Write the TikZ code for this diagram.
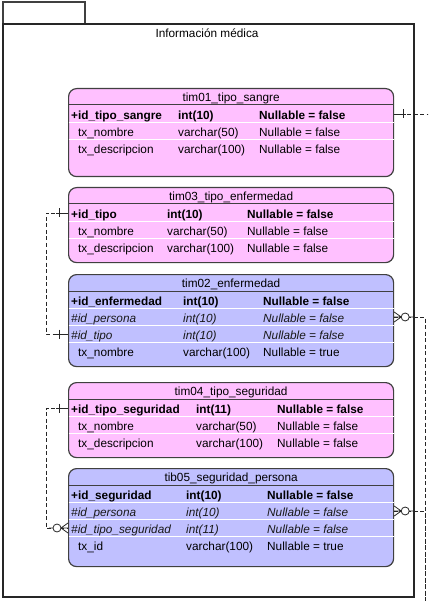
\documentclass[tikz,border=0pt]{standalone}
\usepackage{fontspec}
\setmainfont{Liberation Sans}
\usetikzlibrary{positioning}

\definecolor{pinkfill}{RGB}{255,192,255}
\definecolor{bluefill}{RGB}{192,192,255}
\definecolor{edgegray}{RGB}{64,64,64}

\begin{document}
\begin{tikzpicture}[x=1pt,y=-1pt,
    every node/.style={font=\fontsize{11.8}{13}\selectfont,inner sep=0pt,text height=10.5pt,text depth=0pt},
    tbl/.style={draw=edgegray,line width=1.2pt,rounded corners=8pt,anchor=north west,minimum width=325pt},
    col/.style={anchor=west},
    pk/.style={col,font=\fontsize{11.8}{13}\selectfont\bfseries},
    fk/.style={col,font=\fontsize{11.8}{13}\selectfont\itshape,text=black!90},
    hsep/.style={draw=edgegray,line width=1pt},
    rsep/.style={draw=white,line width=1.5pt},
    rel/.style={draw=black!85,line width=0.8pt,dash pattern=on 4pt off 2.5pt},
    onebar/.pic={\draw[black!85,line width=0.8pt] (0,0) -- (12,0) (9,-4.5) -- (9,4.5);},
    zmany/.pic={\draw[black!85,line width=0.8pt] (0,-5) -- (7,0) -- (0,5) (0,0) -- (7,0) (15,0) -- (19,0);
                \draw[black!85,line width=0.8pt,fill=white] (11,0) circle (4pt);}]
    \clip (0,0) rectangle (428,601);

    % package frame
    \draw[edgegray,line width=1.2pt] (3,2) rectangle (85,24);
    \draw[black!85,line width=1.3pt] (3,24) rectangle (414,597);
    \node (pkg) at (207,32) {Información médica};

    % tables
    \node[tbl,fill=pinkfill,minimum height=88pt] (tim01) at (68,88) {};
    \node[tbl,fill=pinkfill,minimum height=75pt] (tim03) at (68,187) {};
    \node[tbl,fill=bluefill,minimum height=92pt] (tim02) at (68,274) {};
    \node[tbl,fill=pinkfill,minimum height=75pt] (tim04) at (68,382) {};
    \node[tbl,fill=bluefill,minimum height=98pt] (tib05) at (68,468) {};

    \foreach \t/\n in {tim01/3,tim03/3,tim02/4,tim04/3,tib05/4} {
        \draw[hsep] ([yshift=-17pt]\t.north west) -- ([yshift=-17pt]\t.north east);
        \foreach \k in {2,...,\n}
            \draw[rsep] ([xshift=0.6pt,yshift=-17.5pt-17pt*(\k-1)]\t.north west) -- ([xshift=-0.6pt,yshift=-17.5pt-17pt*(\k-1)]\t.north east);
    }

    % tim01
    \node at ([yshift=-8pt]tim01.north) {tim01\_tipo\_sangre};
    \node[pk] (r01a) at (71,114) {+id\_tipo\_sangre};
    \node[pk] at (178,114) {int(10)};
    \node[pk] at (259,114) {Nullable = false};
    \node[col] (r01b) at (78,131) {tx\_nombre};
    \node[col] at (178,131) {varchar(50)};
    \node[col] at (259,131) {Nullable = false};
    \node[col] (r01c) at (78,148) {tx\_descripcion};
    \node[col] at (178,148) {varchar(100)};
    \node[col] at (259,148) {Nullable = false};

    % tim03
    \node at ([yshift=-8pt]tim03.north) {tim03\_tipo\_enfermedad};
    \node[pk] (r03a) at (71,213) {+id\_tipo};
    \node[pk] at (167,213) {int(10)};
    \node[pk] at (247,213) {Nullable = false};
    \node[col] (r03b) at (78,230) {tx\_nombre};
    \node[col] at (167,230) {varchar(50)};
    \node[col] at (247,230) {Nullable = false};
    \node[col] (r03c) at (78,247) {tx\_descripcion};
    \node[col] at (167,247) {varchar(100)};
    \node[col] at (247,247) {Nullable = false};

    % tim02
    \node at ([yshift=-8pt]tim02.north) {tim02\_enfermedad};
    \node[pk] (r02a) at (71,300) {+id\_enfermedad};
    \node[pk] at (183,300) {int(10)};
    \node[pk] at (263,300) {Nullable = false};
    \node[fk] (r02b) at (71,317) {\#id\_persona};
    \node[fk] at (183,317) {int(10)};
    \node[fk] at (263,317) {Nullable = false};
    \node[fk] (r02c) at (71,334) {\#id\_tipo};
    \node[fk] at (183,334) {int(10)};
    \node[fk] at (263,334) {Nullable = false};
    \node[col] (r02d) at (78,351) {tx\_nombre};
    \node[col] at (183,351) {varchar(100)};
    \node[col] at (263,351) {Nullable = true};

    % tim04
    \node at ([yshift=-8pt]tim04.north) {tim04\_tipo\_seguridad};
    \node[pk] (r04a) at (71,408) {+id\_tipo\_seguridad};
    \node[pk] at (196,408) {int(11)};
    \node[pk] at (277,408) {Nullable = false};
    \node[col] (r04b) at (78,425) {tx\_nombre};
    \node[col] at (196,425) {varchar(50)};
    \node[col] at (277,425) {Nullable = false};
    \node[col] (r04c) at (78,442) {tx\_descripcion};
    \node[col] at (196,442) {varchar(100)};
    \node[col] at (277,442) {Nullable = false};

    % tib05
    \node at ([yshift=-8pt]tib05.north) {tib05\_seguridad\_persona};
    \node[pk] (r05a) at (71,494) {+id\_seguridad};
    \node[pk] at (186,494) {int(10)};
    \node[pk] at (267,494) {Nullable = false};
    \node[fk] (r05b) at (71,511) {\#id\_persona};
    \node[fk] at (186,511) {int(10)};
    \node[fk] at (267,511) {Nullable = false};
    \node[fk] (r05c) at (71,528) {\#id\_tipo\_seguridad};
    \node[fk] at (186,528) {int(11)};
    \node[fk] at (267,528) {Nullable = false};
    \node[col] (r05d) at (78,545) {tx\_id};
    \node[col] at (186,545) {varchar(100)};
    \node[col] at (267,545) {Nullable = true};

    % relations
    \coordinate (persona) at (425,620);
    \coordinate (sangre) at (440,114);
    \draw[rel] (tim03.west |- r03a) -- ++(-22,0) |- (tim02.west |- r02c);
    \draw[rel] (tim04.west |- r04a) -- ++(-22,0) |- (tib05.west |- r05c);
    \draw[rel] (tim01.east |- r01a) -- (sangre);
    \draw[rel] (tim02.east |- r02b) -| (persona);
    \draw[rel] (tib05.east |- r05b) -| (persona);

    \pic[xscale=-1] at (tim03.west |- r03a) {onebar};
    \pic[xscale=-1] at (tim02.west |- r02c) {onebar};
    \pic[xscale=-1] at (tim04.west |- r04a) {onebar};
    \pic[xscale=-1] at (tib05.west |- r05c) {zmany};
    \pic at (tim01.east |- r01a) {onebar};
    \pic at (tim02.east |- r02b) {zmany};
    \pic at (tib05.east |- r05b) {zmany};
\end{tikzpicture}
\end{document}
